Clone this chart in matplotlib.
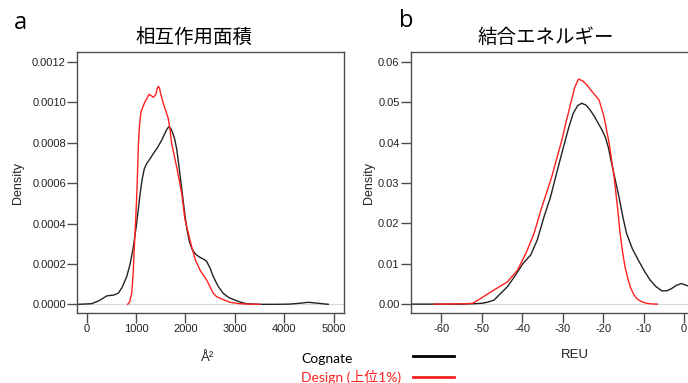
import matplotlib
matplotlib.use("Agg")
import matplotlib.pyplot as plt

# ---- data ----
area_cog_x = [-180, 100, 250, 410, 550, 640, 720, 810, 880, 945, 1000, 1045, 1080, 1120, 1165,
              1215, 1280, 1350, 1430, 1518, 1570, 1620, 1660, 1700, 1740, 1780, 1822, 1860,
              1900, 1950, 1990, 2030, 2080, 2130, 2180, 2227, 2280, 2330, 2380, 2430, 2500,
              2563, 2660, 2765, 2880, 3000, 3120, 3240, 3500, 3800, 4100, 4300, 4486, 4650,
              4890]
area_cog_y = [0.0, 0.000003, 0.000018, 0.000042, 0.000046, 0.000055, 0.000085, 0.000137, 0.0002,
              0.000285, 0.00038, 0.00047, 0.000545, 0.000615, 0.00067, 0.000698, 0.00072,
              0.000747, 0.000775, 0.000813, 0.00084, 0.000866, 0.000879, 0.000872, 0.00085,
              0.00082, 0.00077, 0.0007, 0.00062, 0.00052, 0.00044, 0.00037, 0.00031, 0.000275,
              0.000255, 0.000244, 0.000235, 0.000228, 0.000222, 0.000212, 0.000178, 0.000137,
              0.00009, 0.000054, 0.000033, 0.000021, 0.00001, 0.000003, 0.0, 0.0, 0.000001,
              0.000005, 0.00001, 0.000006, 0.0]

area_des_x = [830, 870, 911, 940, 965, 990, 1012, 1030, 1045, 1070, 1100, 1140, 1180, 1220,
              1260, 1300, 1350, 1400, 1430, 1450, 1475, 1500, 1551, 1600, 1652, 1690, 1720,
              1770, 1822, 1870, 1923, 1990, 2060, 2125, 2200, 2293, 2360, 2430, 2500, 2563,
              2630, 2700, 2800, 2900, 3100, 3300, 3510]
area_des_y = [0.0, 0.000012, 0.000054, 0.00015, 0.000285, 0.00041, 0.00053, 0.00066, 0.00078,
              0.00089, 0.000953, 0.00098, 0.001003, 0.00102, 0.00104, 0.001035, 0.001025,
              0.00104, 0.00107, 0.00108, 0.00107, 0.00104, 0.000995, 0.00096, 0.00092,
              0.00086, 0.000797, 0.00074, 0.00068, 0.00062, 0.00055, 0.00042, 0.00035,
              0.000285, 0.00022, 0.00017, 0.000145, 0.00012, 0.000085, 0.000054, 0.000038,
              0.00003, 0.00002, 0.00001, 0.000003, 0.000001, 0.0]

reu_cog_x = [-67.5, -60, -55, -52, -50, -48.5, -47, -45.5, -43.7, -41.8, -39.8, -37.9, -36.3,
             -34.6, -33.0, -31.5, -29.8, -28.5, -27.4, -26.3, -25.3, -24.2, -23.2, -22.2,
             -21.2, -20.3, -19.5, -18.7, -17.9, -17.0, -16.0, -15.1, -14.2, -12.8, -11.3,
             -9.8, -8.4, -7.0, -5.5, -4.2, -3.0, -1.8, -0.6, 1.0]
reu_cog_y = [0.0, 0.0, 0.0, 0.0001, 0.0002, 0.0005, 0.001, 0.0025, 0.0043, 0.007, 0.0101,
             0.0122, 0.0159, 0.0217, 0.0266, 0.0325, 0.039, 0.0438, 0.0473, 0.0492, 0.0498,
             0.0493, 0.0481, 0.0466, 0.0448, 0.0432, 0.0415, 0.0388, 0.0349, 0.0308, 0.0262,
             0.0215, 0.0175, 0.0138, 0.0109, 0.0082, 0.006, 0.0044, 0.0033, 0.0033, 0.0039,
             0.0047, 0.0051, 0.0045]

reu_des_x = [-61.8, -57, -54, -52.3, -50.3, -47, -43.7, -41.2, -39.1, -37.1, -35.4, -33.8,
             -32.7, -31.5, -30.2, -29.2, -28.2, -27.1, -26.1, -25.0, -24.0, -23.0, -22.0,
             -21.0, -19.8, -18.5, -17.3, -16.5, -15.8, -15.2, -14.6, -13.9, -13.3, -12.5,
             -11.7, -10.5, -9.2, -8.0, -6.6]
reu_des_y = [0.0, 0.00005, 0.0001, 0.0002, 0.0014, 0.0035, 0.0055, 0.0084, 0.0126, 0.0175,
             0.0233, 0.0282, 0.0316, 0.036, 0.0407, 0.045, 0.049, 0.0535, 0.0558, 0.0553,
             0.0543, 0.053, 0.0518, 0.0506, 0.0465, 0.0398, 0.0316, 0.0245, 0.0175, 0.013,
             0.0093, 0.0064, 0.0043, 0.0025, 0.0014, 0.0006, 0.0002, 0.00005, 0.0]

area_xticks = [0, 1000, 2000, 3000, 4000, 5000]
area_yticks = [0.0, 0.0002, 0.0004, 0.0006, 0.0008, 0.0010, 0.0012]
area_yticklabels = ["0.0000", "0.0002", "0.0004", "0.0006", "0.0008", "0.0010", "0.0012"]
reu_xticks = [-60, -50, -40, -30, -20, -10, 0]
reu_yticks = [0.0, 0.01, 0.02, 0.03, 0.04, 0.05, 0.06]
reu_yticklabels = ["0.00", "0.01", "0.02", "0.03", "0.04", "0.05", "0.06"]

title_a = "相互作用面積"
title_b = "結合エネルギー"
legend_labels = ["Cognate", "Design (上位1%)"]

# ---- figure ----
W, H = 688, 383
fig = plt.figure(figsize=(W / 100, H / 100), dpi=100)

def fx(px):
    return px / W

def fy(py):
    return 1 - py / H

spine_col = "#4d4d4d"
tick_font = dict(family=["Liberation Sans", "DejaVu Sans"], size=8)
cjk = ["Noto Sans CJK JP", "DejaVu Sans"]
leg_font = ["Lato", "Noto Sans CJK JP", "DejaVu Sans"]

def style(ax):
    for s in ax.spines.values():
        s.set_color(spine_col)
        s.set_linewidth(1.0)
    ax.tick_params(direction="out", length=7, width=1, color=spine_col, pad=1,
                   top=False, right=False)
    for lab in ax.get_xticklabels() + ax.get_yticklabels():
        lab.set_fontfamily(tick_font["family"])
        lab.set_fontsize(tick_font["size"])
        lab.set_color("#222222")

# panel a
axa = fig.add_axes([fx(77), fy(313), fx(344.3 - 77), (313 - 52) / H])
axa.axhline(0, color="#d9d9d9", lw=0.8, zorder=0)
axa.plot(area_cog_x, area_cog_y, color="#222222", lw=1.0)
axa.plot(area_des_x, area_des_y, color="#ff2020", lw=1.0)
axa.set_xlim(-196, 5215)
axa.set_ylim(-0.000043, 0.00125)
axa.set_xticks(area_xticks)
axa.set_xticklabels([str(v) for v in area_xticks])
axa.set_yticks(area_yticks)
axa.set_yticklabels(area_yticklabels)
style(axa)

# panel b
axb = fig.add_axes([fx(410.7), fy(313), fx(700 - 410.7), (313 - 52) / H])
axb.axhline(0, color="#d9d9d9", lw=0.8, zorder=0)
axb.plot(reu_cog_x, reu_cog_y, color="#222222", lw=1.0)
axb.plot(reu_des_x, reu_des_y, color="#ff2020", lw=1.0)
axb.set_xlim(-67.6, 3.96)
axb.set_ylim(-0.0022, 0.0625)
axb.set_xticks(reu_xticks)
axb.set_xticklabels([str(v) for v in reu_xticks])
axb.set_yticks(reu_yticks)
axb.set_yticklabels(reu_yticklabels)
style(axb)

# axis labels
fig.text(fx(18), fy(183), "Density", rotation=90, ha="center", va="center",
         fontsize=9, family=["Liberation Sans", "DejaVu Sans"], color="#222222")
fig.text(fx(369), fy(183), "Density", rotation=90, ha="center", va="center",
         fontsize=9, family=["Liberation Sans", "DejaVu Sans"], color="#222222")
fig.text(fx(208), fy(358), "Å²", ha="center", va="center",
         fontsize=9.5, family=["Liberation Sans", "DejaVu Sans"], color="#222222")
fig.text(fx(575), fy(355), "REU", ha="center", va="center",
         fontsize=9.5, family=["Liberation Sans", "DejaVu Sans"], color="#222222")

# titles and panel letters
fig.text(fx(194), fy(37), title_a, ha="center", va="center", fontsize=14, family=cjk)
fig.text(fx(546), fy(37), title_b, ha="center", va="center", fontsize=14, family=cjk)
fig.text(fx(20), fy(23), "a", ha="center", va="center", fontsize=17,
         family=["Open Sans", "DejaVu Sans"])
fig.text(fx(406), fy(21), "b", ha="center", va="center", fontsize=17,
         family=["Open Sans", "DejaVu Sans"])

# legend (manual, below plots)
fig.text(fx(301), fy(359), legend_labels[0], ha="left", va="center", fontsize=10,
         family=leg_font, color="black")
fig.text(fx(301), fy(377), legend_labels[1], ha="left", va="center", fontsize=10,
         family=leg_font, color="#ff2020")
fig.add_artist(plt.Line2D([fx(413), fx(454)], [fy(356), fy(356)], color="black", lw=2,
                          transform=fig.transFigure))
fig.add_artist(plt.Line2D([fx(413), fx(454)], [fy(377), fy(377)], color="#ff2020", lw=2,
                          transform=fig.transFigure))

fig.savefig("out.png", dpi=100)
